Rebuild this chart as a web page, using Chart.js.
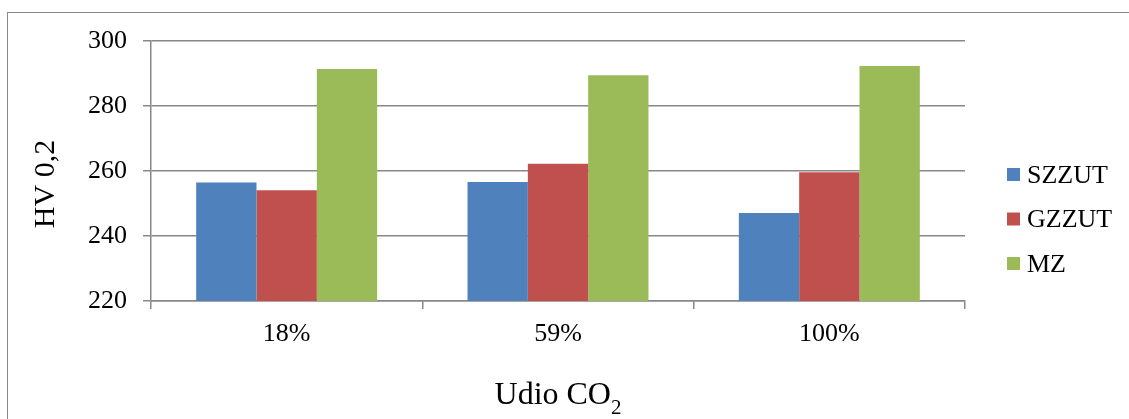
<!DOCTYPE html>
<html>
<head>
<meta charset="utf-8">
<script src="https://cdn.jsdelivr.net/npm/chart.js@4/dist/chart.umd.min.js"></script>
<style>
  html, body { margin: 0; padding: 0; background: #fff; }
  canvas { display: block; }
</style>
</head>
<body>
<canvas id="hvChart" width="1129" height="419"></canvas>
<script>
// === DATOS ===
const categories = ["18%", "59%", "100%"];
const seriesNames = ["SZZUT", "GZZUT", "MZ"];
const szzut = [256.5, 256.6, 247.1];
const gzzut = [254.1, 262.2, 259.6];
const mz = [291.4, 289.5, 292.3];
const seriesColors = ["#4F81BD", "#C0504D", "#9BBB59"];
const yTitle = "HV 0,2";
const xTitle = "Udio CO";
const xTitleSub = "2";

const SERIF = "'Liberation Serif', 'Times New Roman', serif";
const GRID = "#888888";

// marco exterior, títulos de ejes y leyenda
const decorations = {
  id: "decorations",
  beforeDraw(chart) {
    const ctx = chart.ctx;
    ctx.save();
    ctx.strokeStyle = GRID;
    ctx.lineWidth = 1;
    ctx.strokeRect(7.5, 12.5, chart.width + 20, chart.height + 20);
    ctx.restore();
  },
  afterDraw(chart) {
    const ctx = chart.ctx;
    const area = chart.chartArea;
    ctx.save();
    ctx.fillStyle = "#000";

    // título eje Y
    ctx.font = "30px " + SERIF;
    ctx.textAlign = "center";
    ctx.textBaseline = "middle";
    ctx.translate(46, area.top + (area.bottom - area.top) / 2 + 13);
    ctx.rotate(-Math.PI / 2);
    ctx.fillText(yTitle, 0, 0);
    ctx.setTransform(1, 0, 0, 1, 0, 0);

    // título eje X con subíndice
    ctx.textAlign = "left";
    ctx.textBaseline = "alphabetic";
    ctx.font = "32px " + SERIF;
    const w1 = ctx.measureText(xTitle).width;
    ctx.font = "21px " + SERIF;
    const w2 = ctx.measureText(xTitleSub).width;
    const cx = (area.left + area.right) / 2;
    const x0 = cx - (w1 + w2) / 2;
    ctx.font = "32px " + SERIF;
    ctx.fillText(xTitle, x0, 404);
    ctx.font = "21px " + SERIF;
    ctx.fillText(xTitleSub, x0 + w1, 414);

    // leyenda
    ctx.font = "26px " + SERIF;
    ctx.textBaseline = "middle";
    const lx = area.right + 42;
    const step = 44.5;
    const ly0 = chart.height / 2 + 10 - step;
    chart.data.datasets.forEach((ds, i) => {
      const y = ly0 + i * step;
      ctx.fillStyle = ds.backgroundColor;
      ctx.fillRect(lx, y - 7, 13, 13);
      ctx.fillStyle = "#000";
      ctx.fillText(ds.label, lx + 20, y + 1);
    });
    ctx.restore();
  }
};

new Chart(document.getElementById("hvChart"), {
  type: "bar",
  data: {
    labels: categories,
    datasets: [szzut, gzzut, mz].map((values, i) => ({
      label: seriesNames[i],
      data: values,
      backgroundColor: seriesColors[i],
      borderWidth: 0,
      categoryPercentage: 0.667,
      barPercentage: 1.0
    }))
  },
  options: {
    responsive: false,
    animation: false,
    layout: { padding: { left: 0, top: 41, right: 164, bottom: 0 } },
    plugins: {
      legend: { display: false },
      tooltip: { enabled: false }
    },
    scales: {
      x: {
        offset: true,
        afterFit: s => { s.height = 118; },
        grid: {
          offset: true,
          drawOnChartArea: false,
          drawTicks: true,
          tickLength: 8,
          color: GRID,
          lineWidth: 1.5
        },
        border: { color: GRID, width: 1.5 },
        ticks: {
          color: "#000",
          font: { family: SERIF, size: 26 },
          padding: 10,
          maxRotation: 0
        }
      },
      y: {
        min: 220,
        max: 300,
        afterFit: s => { s.width = 151; },
        grid: {
          color: GRID,
          lineWidth: 1.5,
          tickLength: 8
        },
        border: { color: GRID, width: 1.5 },
        ticks: {
          stepSize: 20,
          color: "#000",
          font: { family: SERIF, size: 26 },
          padding: 16
        }
      }
    }
  },
  plugins: [decorations]
});
</script>
</body>
</html>
